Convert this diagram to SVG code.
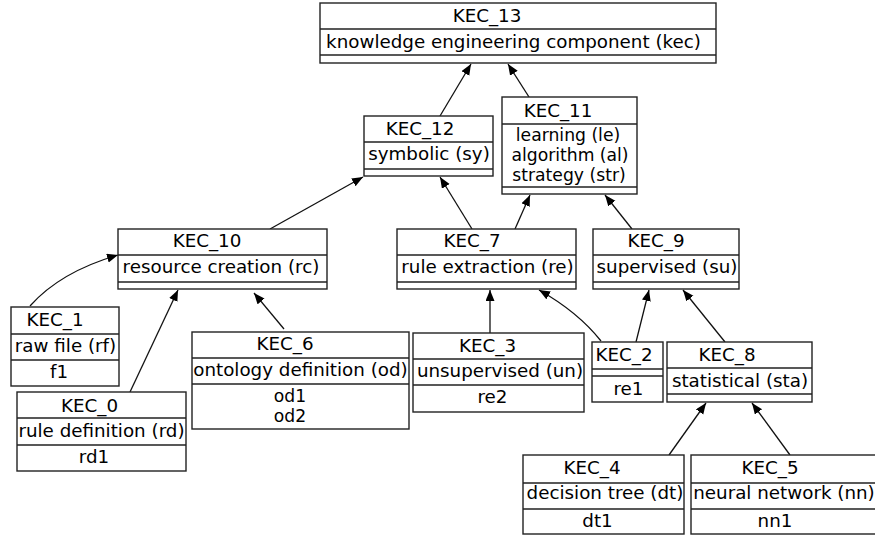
<svg xmlns="http://www.w3.org/2000/svg" width="875" height="535" viewBox="0 0 875 535">
<style>
rect{fill:#fff;stroke:#222;stroke-width:1.4}
.d{stroke:#222;stroke-width:1.4;fill:none}
text{font-family:"DejaVu Sans",sans-serif;font-size:18.3px;fill:#000;text-anchor:middle}
.m{font-size:17.2px}
.e{stroke:#111;stroke-width:1.3;fill:none;marker-end:url(#ah)}
</style>
<defs>
<marker id="ah" markerUnits="userSpaceOnUse" markerWidth="12" markerHeight="10" refX="11" refY="4.5" orient="auto">
<path d="M0,0 L11,4.5 L0,9 z" fill="#000"/>
</marker>
</defs>
<rect x="0" y="0" width="875" height="535" style="fill:#fff;stroke:none"/>
<g id="edges">
<line class="e" x1="440" y1="116" x2="471" y2="64"/>
<line class="e" x1="529" y1="97" x2="508" y2="64"/>
<line class="e" x1="270" y1="229" x2="363" y2="177"/>
<line class="e" x1="472" y1="229" x2="440" y2="177"/>
<line class="e" x1="515" y1="229" x2="530" y2="195"/>
<line class="e" x1="632" y1="229" x2="605" y2="195"/>
<path class="e" d="M30,306 Q60,272 118,255"/>
<line class="e" x1="130" y1="392" x2="178" y2="290"/>
<line class="e" x1="284" y1="329" x2="254" y2="293"/>
<line class="e" x1="490" y1="333" x2="490" y2="290"/>
<path class="e" d="M601,341 Q578,312 539,290"/>
<line class="e" x1="636" y1="342" x2="649" y2="290"/>
<line class="e" x1="725" y1="342" x2="683" y2="290"/>
<line class="e" x1="669" y1="455" x2="706" y2="403"/>
<line class="e" x1="790" y1="455" x2="752" y2="403"/>
</g>
<g id="KEC_13">
<rect x="320" y="3" width="396" height="60"/>
<path class="d" d="M320,29H716M320,55H716"/>
<text x="487" y="22">KEC_13</text>
<text x="513.5" y="48">knowledge engineering component (kec)</text>
</g>
<g id="KEC_12">
<rect x="364" y="116" width="129" height="60"/>
<path class="d" d="M364,142H493M364,169H493"/>
<text x="420" y="135">KEC_12</text>
<text x="429" y="160">symbolic (sy)</text>
</g>
<g id="KEC_11">
<rect x="502" y="97" width="135" height="97"/>
<path class="d" d="M502,124H637M502,187H637"/>
<text x="558" y="117">KEC_11</text>
<text class="m" x="568" y="141">learning (le)</text>
<text class="m" x="570" y="161">algorithm (al)</text>
<text class="m" x="569" y="181">strategy (str)</text>
</g>
<g id="KEC_10">
<rect x="118" y="229" width="209" height="60"/>
<path class="d" d="M118,255H327M118,282H327"/>
<text x="207" y="247">KEC_10</text>
<text x="221" y="273">resource creation (rc)</text>
</g>
<g id="KEC_7">
<rect x="397" y="229" width="179" height="60"/>
<path class="d" d="M397,255H576M397,282H576"/>
<text x="472" y="247">KEC_7</text>
<text x="487.5" y="273">rule extraction (re)</text>
</g>
<g id="KEC_9">
<rect x="593" y="229" width="146" height="60"/>
<path class="d" d="M593,255H739M593,282H739"/>
<text x="656" y="247">KEC_9</text>
<text x="667" y="273">supervised (su)</text>
</g>
<g id="KEC_1">
<rect x="11" y="307" width="108" height="79"/>
<path class="d" d="M11,334H119M11,360H119"/>
<text x="55" y="326">KEC_1</text>
<text x="65.5" y="352">raw file (rf)</text>
<text x="59" y="378">f1</text>
</g>
<g id="KEC_0">
<rect x="17" y="392" width="169" height="79"/>
<path class="d" d="M17,418H186M17,445H186"/>
<text x="89.5" y="412">KEC_0</text>
<text x="101.5" y="437">rule definition (rd)</text>
<text x="94" y="463">rd1</text>
</g>
<g id="KEC_6">
<rect x="192" y="332" width="217" height="97"/>
<path class="d" d="M192,358H409M192,384H409"/>
<text x="285" y="350">KEC_6</text>
<text x="300.5" y="376">ontology definition (od)</text>
<text class="m" x="290" y="402">od1</text>
<text class="m" x="290" y="422">od2</text>
</g>
<g id="KEC_3">
<rect x="413" y="333" width="171" height="79"/>
<path class="d" d="M413,359H584M413,385H584"/>
<text x="487.5" y="352">KEC_3</text>
<text x="500" y="377">unsupervised (un)</text>
<text x="492.5" y="403">re2</text>
</g>
<g id="KEC_2">
<rect x="592" y="342" width="71" height="60"/>
<path class="d" d="M592,369H663M592,376H663"/>
<text x="624" y="361">KEC_2</text>
<text x="628.5" y="395">re1</text>
</g>
<g id="KEC_8">
<rect x="667" y="342" width="145" height="60"/>
<path class="d" d="M667,368H812M667,394H812"/>
<text x="727" y="361">KEC_8</text>
<text x="740" y="387">statistical (sta)</text>
</g>
<g id="KEC_4">
<rect x="523" y="455" width="161" height="79"/>
<path class="d" d="M523,483H684M523,509H684"/>
<text x="592" y="474">KEC_4</text>
<text x="605" y="499">decision tree (dt)</text>
<text x="597.5" y="527">dt1</text>
</g>
<g id="KEC_5">
<rect x="691" y="455" width="190" height="79"/>
<path class="d" d="M691,483H881M691,509H881"/>
<text x="770" y="474">KEC_5</text>
<text x="784" y="499">neural network (nn)</text>
<text x="775" y="527">nn1</text>
</g>
</svg>
